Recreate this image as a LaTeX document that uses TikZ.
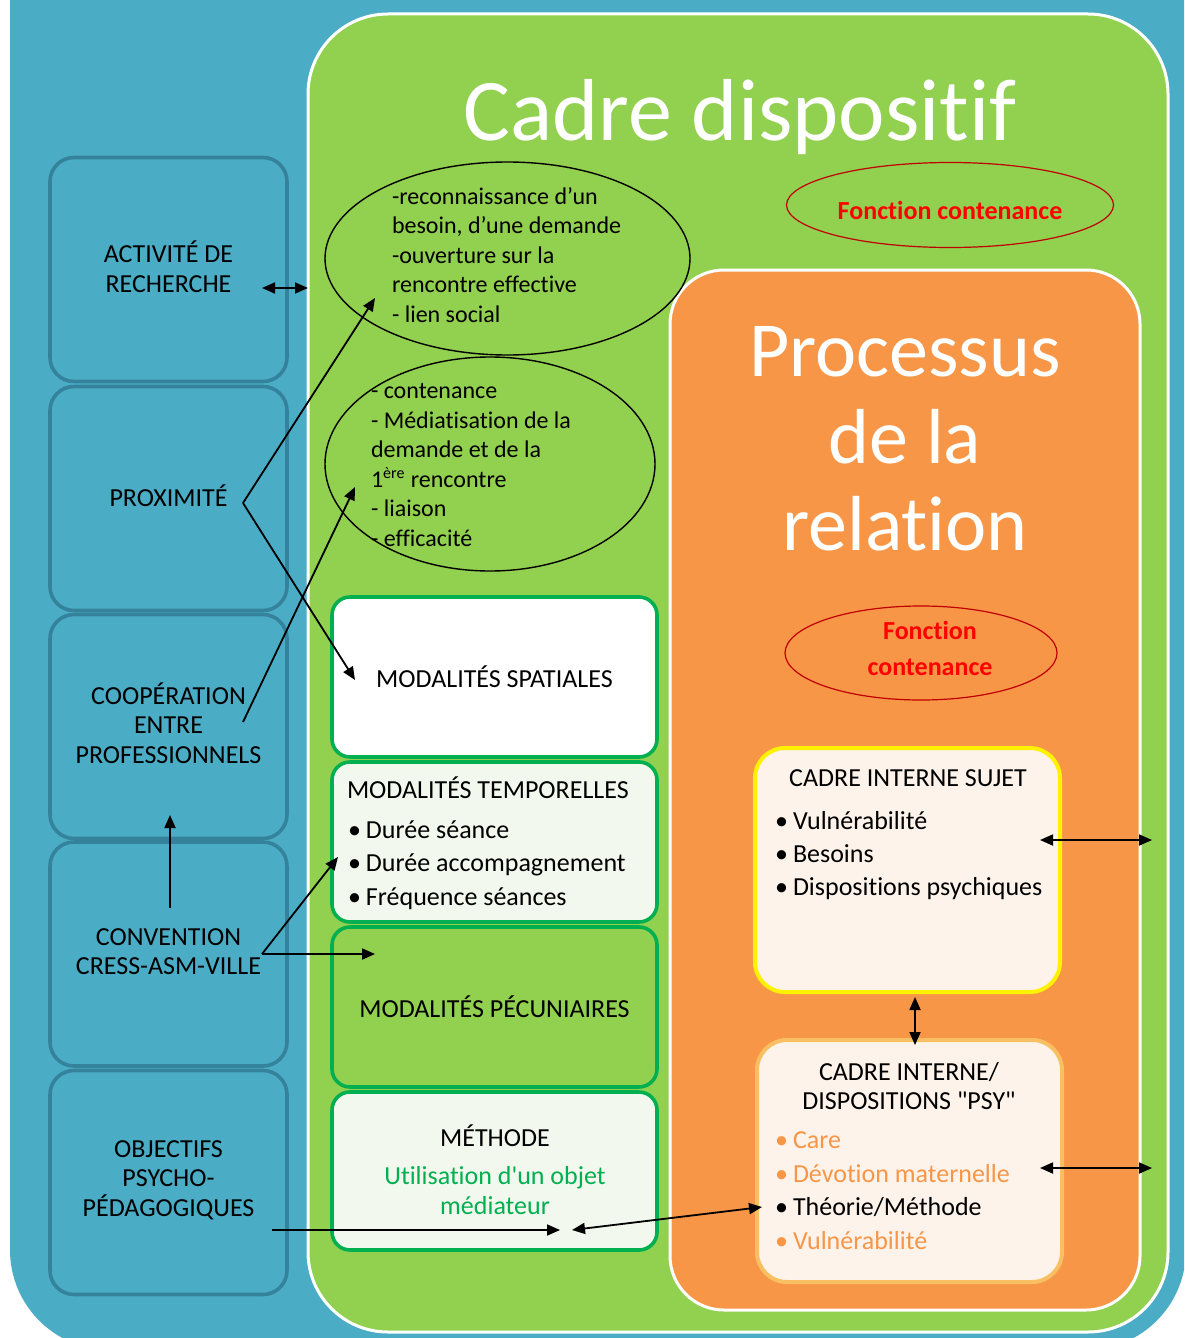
\documentclass[tikz,border=0pt]{standalone}
\usepackage{fontspec}
\setmainfont{Carlito}[Ligatures={TeXOff,NoCommon}]
\usetikzlibrary{arrows.meta,shapes.geometric}

\definecolor{bgblue}{HTML}{4BACC6}
\definecolor{boxblue}{HTML}{34829C}
\definecolor{dgreen}{HTML}{92D050}
\definecolor{mgreen}{HTML}{00B050}
\definecolor{paleg}{HTML}{F2F8EE}
\definecolor{orng}{HTML}{F79646}
\definecolor{cream}{HTML}{FDF3EA}
\definecolor{gold}{HTML}{F8C063}
\definecolor{dred}{HTML}{C00000}
\definecolor{fred}{HTML}{FF0000}

% bullet with a fixed indent
\newcommand\puce[2]{{\color{#1}\makebox[9pt][l]{•}#2}}

\begin{document}
\begin{tikzpicture}[x=0.5pt,y=-0.5pt,
  every node/.style={inner sep=0pt, outer sep=0pt},
  leftbox/.style={draw=boxblue, line width=1.8pt, fill=bgblue, rounded corners=12pt,
    minimum width=118.5pt, minimum height=112pt},
  lefttxt/.style={align=center, font=\fontsize{13pt}{14.75pt}\selectfont},
  modbox/.style={draw=mgreen, line width=1.8pt, rounded corners=9pt,
    minimum width=162.5pt, minimum height=80pt, font=\fontsize{13pt}{16pt}\selectfont},
  innerbox/.style={line width=2pt, fill=cream, rounded corners=15pt, minimum width=152.5pt},
  body/.style={font=\fontsize{13pt}{16.75pt}\selectfont, align=left},
  fct/.style={ellipse, draw=dred, line width=0.6pt},
  fcttxt/.style={text=fred, align=center, font=\bfseries\fontsize{13pt}{18pt}\selectfont},
  oval/.style={ellipse, draw=black, line width=0.7pt},
  ovaltxt/.style={align=left, font=\fontsize{12pt}{14.8pt}\selectfont},
  link/.style={-{Triangle[length=6.5pt,width=5.5pt]}, line width=0.9pt},
  dlink/.style={{Triangle[length=6.5pt,width=5.5pt]}-{Triangle[length=6.5pt,width=5.5pt]}, line width=0.9pt},
]
\useasboundingbox (0,0) rectangle (1184,1338);
\clip (0,0) rectangle (1184,1338);

% outer blue field
\fill[bgblue, rounded corners=50pt] (10,-200) rectangle (1186,1350);

% left column
\node[leftbox] (act) at (168.5,269.5) {};
\node[leftbox] (prox) at (168.5,498.5) {};
\node[leftbox] (coop) at (168.5,726.5) {};
\node[leftbox] (conv) at (168.5,954) {};
\node[leftbox] (obj) at (168.5,1182.5) {};
\node[lefttxt] (actt) at (168.5,266.5) {ACTIVITÉ DE\\RECHERCHE};
\node[lefttxt] (proxt) at (168.5,495.5) {PROXIMITÉ};
\node[lefttxt] (coopt) at (168.5,723) {COOPÉRATION\\ENTRE\\PROFESSIONNELS};
\node[lefttxt] (convt) at (168.5,951.5) {CONVENTION\\CRESS-ASM-VILLE};
\node[lefttxt] (objt) at (168.5,1180) {OBJECTIFS\\PSYCHO-\\PÉDAGOGIQUES};

% green frame
\node[draw=white, line width=1.5pt, fill=dgreen, rounded corners=40pt,
  minimum width=430pt, minimum height=659pt] (cadre) at (738,673) {};
\node[text=white, font=\fontsize{44pt}{50pt}\selectfont] (cadretitle) at (740,117) {Cadre dispositif};
\node[fct, minimum width=163.5pt, minimum height=42.5pt] (fc1) at (950,205) {};
\node[fcttxt] (fc1t) at (950,210) {Fonction contenance};

% orange frame
\node[draw=white, line width=1.5pt, fill=orng, rounded corners=27pt,
  minimum width=235pt, minimum height=520pt] (proc) at (905,790) {};
\node[text=white, align=center, font=\fontsize{39pt}{43.5pt}\selectfont] (proctitle) at (905,439)
  {Processus\\de la\\relation};
\node[fct, minimum width=136pt, minimum height=47pt] (fc2) at (921,653) {};
\node[fcttxt] (fc2t) at (930,648) {Fonction\\contenance};

% ovals
\node[oval, minimum width=182.5pt, minimum height=96.5pt] (e1) at (507.5,258.5) {};
\node[ovaltxt, anchor=west] (e1t) at (392,255)
  {-reconnaissance d’un\\besoin, d’une demande\\-ouverture sur la\\rencontre effective\\- lien social};
\node[oval, minimum width=165pt, minimum height=107pt] (e2) at (490,464) {};
\node[ovaltxt, anchor=west] (e2t) at (371,465)
  {- contenance\\- Médiatisation de la\\demande et de la\\1\textsuperscript{ère} rencontre\\- liaison\\- efficacité};

% modalities
\node[modbox, fill=white] (spat) at (494.5,677) {MODALITÉS SPATIALES};
\node[modbox, fill=paleg] (temp) at (494.5,842) {};
\node[body, anchor=west] (tempt) at (347,788) {MODALITÉS TEMPORELLES};
\node[body, anchor=west] (templ) at (348,865)
  {\puce{black}{Durée séance}\\\puce{black}{Durée accompagnement}\\\puce{black}{Fréquence séances}};
\node[modbox, fill=dgreen] (pec) at (494.5,1007) {MODALITÉS PÉCUNIAIRES};
\node[modbox, fill=paleg, minimum height=79pt] (meth) at (494.5,1171) {};
\node[body] (metht) at (495,1136) {MÉTHODE};
\node[body, align=center, text=mgreen, font=\fontsize{13pt}{15pt}\selectfont] (methl) at (495,1191)
  {Utilisation d'un objet\\médiateur};

% inner frames
\node[innerbox, draw=yellow, minimum height=122pt] (sujet) at (907.5,870) {};
\node[body] (sujett) at (908,778) {CADRE INTERNE SUJET};
\node[body, anchor=west, font=\fontsize{13pt}{16.5pt}\selectfont] (sujetl) at (775,856)
  {\puce{black}{Vulnérabilité}\\\puce{black}{Besoins}\\\puce{black}{Dispositions psychiques}};
\node[innerbox, draw=gold, minimum height=121pt] (psy) at (909.5,1161) {};
\node[body, align=center, font=\fontsize{13pt}{14.5pt}\selectfont] (psyt) at (909,1086)
  {CADRE INTERNE/\\DISPOSITIONS "PSY"};
\node[body, anchor=west, font=\fontsize{13pt}{16.8pt}\selectfont] (psyl) at (775,1190.5)
  {\puce{orng}{\color{orng}Care}\\\puce{orng}{\color{orng}Dévotion maternelle}\\\puce{black}{Théorie/Méthode}\\\puce{orng}{\color{orng}Vulnérabilité}};

% connector end points
\coordinate (actA) at (262,288);
\coordinate (proxA) at (243,503);
\coordinate (e1in) at (375,298);
\coordinate (spatin) at (355,680);
\coordinate (coopA) at (243,722);
\coordinate (e2in) at (355,487);
\coordinate (convA) at (262,954);
\coordinate (convUp) at (170,908);
\coordinate (coopIn) at (170,815);
\coordinate (tempin) at (338,857);
\coordinate (pecin) at (375,954);
\coordinate (objA) at (272,1230);
\coordinate (methin) at (560,1230);
\coordinate (methin2) at (572,1230);
\coordinate (theo) at (762,1207);
\coordinate (sujA) at (1040,840);
\coordinate (sujB) at (1152,840);
\coordinate (psyA) at (1040,1168);
\coordinate (psyB) at (1152,1168);
\coordinate (vTop) at (915,997);
\coordinate (vBot) at (915,1045);

% connectors
\draw[dlink] (actA) -- (actA -| cadre.west);
\draw[link] (proxA) -- (e1in);
\draw[link] (proxA) -- (spatin);
\draw[link] (coopA) -- (e2in);
\draw[link] (convUp) -- (coopIn);
\draw[link] (convA) -- (tempin);
\draw[link] (convA) -- (pecin);
\draw[link] (objA) -- (methin);
\draw[dlink] (methin2) -- (theo);
\draw[dlink] (sujA) -- (sujB);
\draw[dlink] (psyA) -- (psyB);
\draw[dlink] (vTop) -- (vBot);
\end{tikzpicture}
\end{document}
